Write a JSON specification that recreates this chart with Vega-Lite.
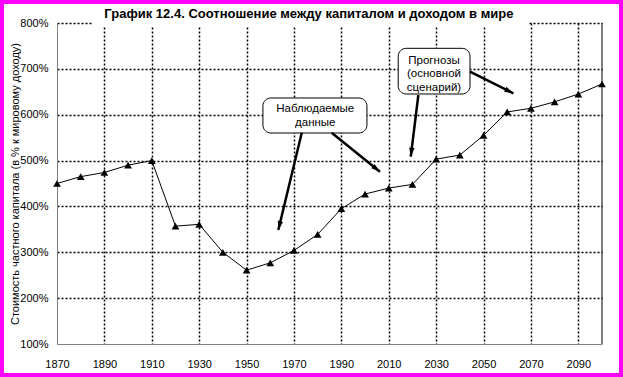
{
  "$schema": "https://vega.github.io/schema/vega-lite/v6.json",
  "width": 545,
  "height": 321,
  "autosize": {"type": "none"},
  "padding": {"left": 57, "top": 23, "right": 21, "bottom": 33},
  "background": "white",
  "config": {"font": "Liberation Sans", "view": {"stroke": null}},
  "datasets": {
    "series": [
      {"year": 1870, "value": 4.50}, {"year": 1880, "value": 4.65}, {"year": 1890, "value": 4.74},
      {"year": 1900, "value": 4.90}, {"year": 1910, "value": 5.00}, {"year": 1920, "value": 3.57},
      {"year": 1930, "value": 3.61}, {"year": 1940, "value": 3.00}, {"year": 1950, "value": 2.61},
      {"year": 1960, "value": 2.77}, {"year": 1970, "value": 3.04}, {"year": 1980, "value": 3.39},
      {"year": 1990, "value": 3.95}, {"year": 2000, "value": 4.27}, {"year": 2010, "value": 4.40},
      {"year": 2020, "value": 4.48}, {"year": 2030, "value": 5.03}, {"year": 2040, "value": 5.12},
      {"year": 2050, "value": 5.55}, {"year": 2060, "value": 6.06}, {"year": 2070, "value": 6.14},
      {"year": 2080, "value": 6.28}, {"year": 2090, "value": 6.45}, {"year": 2100, "value": 6.67}
    ],
    "boxes": [
      {"year": 1956.9, "year2": 2000.8, "value": 6.365, "value2": 5.601},
      {"year": 2014.0, "year2": 2044.3, "value": 7.448, "value2": 6.452}
    ],
    "labels": [
      {"text": "Наблюдаемые", "year": 1979.0, "value": 6.118},
      {"text": "данные", "year": 1979.0, "value": 5.813},
      {"text": "Прогнозы", "year": 2029.1, "value": 7.178},
      {"text": "(основной", "year": 2029.1, "value": 6.888},
      {"text": "сценарий)", "year": 2029.1, "value": 6.576}
    ],
    "arrows": [
      {"id": "a1", "year": 1973.3, "value": 5.608, "year2": 1963.4, "value2": 3.486},
      {"id": "a2", "year": 1985.9, "value": 5.608, "year2": 2006.3, "value2": 4.757},
      {"id": "a3", "year": 2022.5, "value": 6.430, "year2": 2019.3, "value2": 5.084},
      {"id": "a4", "year": 2044.3, "value": 6.938, "year2": 2062.6, "value2": 6.467}
    ]
  },
  "layer": [
    {
      "data": {"name": "series"},
      "mark": {"type": "line", "color": "black", "strokeWidth": 1},
      "encoding": {
        "x": {
          "field": "year", "type": "quantitative",
          "scale": {"domain": [1870, 2100], "nice": false, "zero": false},
          "axis": {
            "values": [1870, 1890, 1910, 1930, 1950, 1970, 1990, 2010, 2030, 2050, 2070, 2090],
            "format": "d", "title": null, "ticks": false, "tickSize": 0,
            "labelPadding": 14, "labelFontSize": 11, "labelColor": "black",
            "labelFlush": false, "labelOverlap": false,
            "domainColor": "#808080", "domainWidth": 1,
            "grid": true,
            "gridColor": {"condition": {"test": "datum.value == 1870", "value": "transparent"}, "value": "black"},
            "gridDash": [2, 2], "gridWidth": 1.5
          }
        },
        "y": {
          "field": "value", "type": "quantitative",
          "scale": {"domain": [1, 8], "nice": false, "zero": false},
          "axis": {
            "values": [1, 2, 3, 4, 5, 6, 7, 8],
            "format": ".0%",
            "title": "Стоимость частного капитала (в % к мировому доходу)",
            "titleFontSize": 11, "titleFontWeight": "normal", "titleColor": "black",
            "titleX": -39, "titleY": 160.5, "titleBaseline": "alphabetic", "titleAngle": -90,
            "ticks": false, "tickSize": 0,
            "labelPadding": 9, "labelFontSize": 11, "labelColor": "black",
            "labelFlush": false, "labelOverlap": false,
            "domainColor": "#808080", "domainWidth": 1,
            "grid": true,
            "gridColor": {"condition": {"test": "datum.value == 1", "value": "transparent"}, "value": "black"},
            "gridDash": [2, 2], "gridWidth": 1.5
          }
        }
      }
    },
    {
      "data": {"name": "series"},
      "mark": {"type": "point", "shape": "triangle-up", "filled": true, "color": "black", "size": 60, "opacity": 1},
      "encoding": {
        "x": {"field": "year", "type": "quantitative"},
        "y": {"field": "value", "type": "quantitative"}
      }
    },
    {
      "data": {"values": [{}]},
      "mark": {"type": "rect", "fill": "white"},
      "encoding": {
        "x": {"datum": 1885.2, "type": "quantitative"},
        "x2": {"datum": 2068.8},
        "y": {"datum": 8.07, "type": "quantitative"},
        "y2": {"datum": 7.93}
      }
    },
    {
      "data": {"values": [{}]},
      "mark": {"type": "rule", "color": "black", "strokeWidth": 1},
      "encoding": {
        "x": {"datum": 2100, "type": "quantitative"},
        "y": {"datum": 1, "type": "quantitative"},
        "y2": {"datum": 8}
      }
    },
    {
      "data": {"name": "boxes"},
      "mark": {"type": "rect", "fill": "white", "stroke": "black", "strokeWidth": 1, "cornerRadius": 8},
      "encoding": {
        "x": {"field": "year", "type": "quantitative"},
        "x2": {"field": "year2"},
        "y": {"field": "value", "type": "quantitative"},
        "y2": {"field": "value2"}
      }
    },
    {
      "data": {"name": "labels"},
      "mark": {"type": "text", "fontSize": 11.5, "color": "black", "align": "center", "baseline": "middle"},
      "encoding": {
        "x": {"field": "year", "type": "quantitative"},
        "y": {"field": "value", "type": "quantitative"},
        "text": {"field": "text"}
      }
    },
    {
      "data": {"name": "arrows"},
      "mark": {"type": "rule", "color": "black", "strokeWidth": 2.5},
      "encoding": {
        "x": {"field": "year", "type": "quantitative"},
        "x2": {"field": "year2"},
        "y": {"field": "value", "type": "quantitative"},
        "y2": {"field": "value2"}
      }
    },
    {
      "data": {"name": "arrows"},
      "transform": [{"filter": "datum.id == 'a1'"}],
      "mark": {"type": "point", "shape": "M0,0L-0.6,2L0.6,2Z", "filled": true, "color": "black", "opacity": 1, "size": 81, "angle": 193.5},
      "encoding": {
        "x": {"field": "year2", "type": "quantitative"},
        "y": {"field": "value2", "type": "quantitative"}
      }
    },
    {
      "data": {"name": "arrows"},
      "transform": [{"filter": "datum.id == 'a2'"}],
      "mark": {"type": "point", "shape": "M0,0L-0.6,2L0.6,2Z", "filled": true, "color": "black", "opacity": 1, "size": 81, "angle": 128.9},
      "encoding": {
        "x": {"field": "year2", "type": "quantitative"},
        "y": {"field": "value2", "type": "quantitative"}
      }
    },
    {
      "data": {"name": "arrows"},
      "transform": [{"filter": "datum.id == 'a3'"}],
      "mark": {"type": "point", "shape": "M0,0L-0.6,2L0.6,2Z", "filled": true, "color": "black", "opacity": 1, "size": 81, "angle": 187},
      "encoding": {
        "x": {"field": "year2", "type": "quantitative"},
        "y": {"field": "value2", "type": "quantitative"}
      }
    },
    {
      "data": {"name": "arrows"},
      "transform": [{"filter": "datum.id == 'a4'"}],
      "mark": {"type": "point", "shape": "M0,0L-0.6,2L0.6,2Z", "filled": true, "color": "black", "opacity": 1, "size": 81, "angle": 116.5},
      "encoding": {
        "x": {"field": "year2", "type": "quantitative"},
        "y": {"field": "value2", "type": "quantitative"}
      }
    },
    {
      "data": {"values": [{}]},
      "mark": {"type": "text", "text": "График 12.4. Соотношение между капиталом и доходом в мире", "fontSize": 13, "fontWeight": "bold", "color": "black", "align": "center", "baseline": "alphabetic"},
      "encoding": {
        "x": {"datum": 1976.3, "type": "quantitative"},
        "y": {"datum": 8.109, "type": "quantitative"}
      }
    },
    {
      "data": {"values": [{}]},
      "mark": {"type": "rect", "fillOpacity": 0, "fill": "white", "stroke": "#ff00ff", "strokeWidth": 8},
      "encoding": {
        "x": {"datum": 1845.95, "type": "quantitative"},
        "x2": {"datum": 2108.86},
        "y": {"datum": 8.5015, "type": "quantitative"},
        "y2": {"datum": 0.2804}
      }
    }
  ]
}
